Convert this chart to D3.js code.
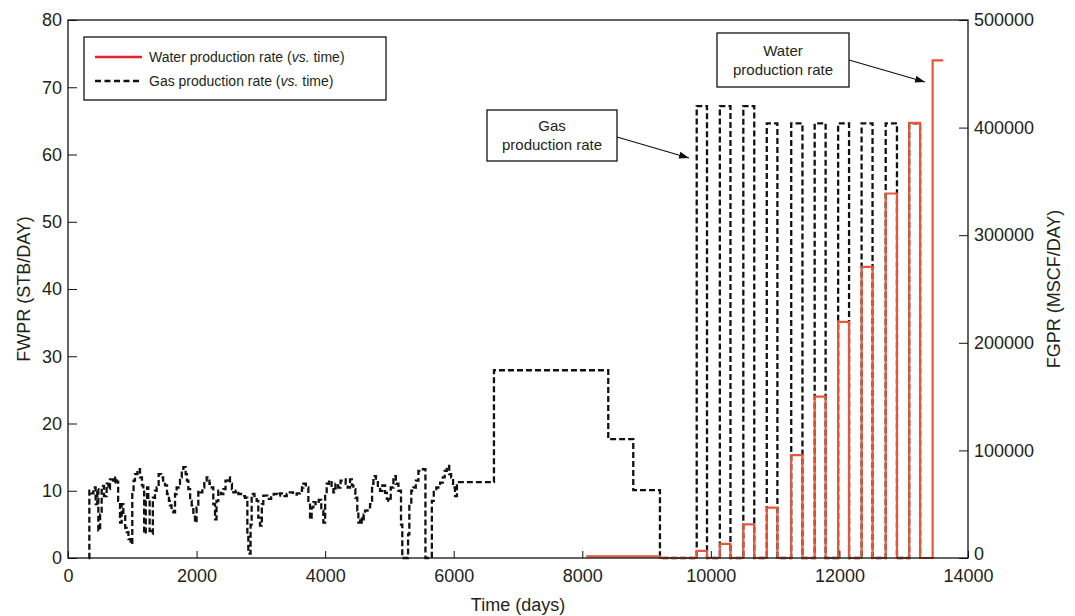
<!DOCTYPE html>
<html>
<head>
<meta charset="utf-8">
<script src="https://cdn.jsdelivr.net/npm/d3@7"></script>
<style>
  html, body { margin: 0; padding: 0; background: #fff; }
  svg { display: block; font-family: "Liberation Sans", Arial, sans-serif; }
</style>
</head>
<body>
<svg id="chart" width="1075" height="616"></svg>
<script>
// ---- Data ---------------------------------------------------------------
// Field gas production rate before the cyclic period (days, MSCF/DAY)
const gasEarlyDays = [320, 332, 360, 394, 430, 455, 472, 500, 524, 560, 601, 630, 653, 700, 735, 757, 780, 809, 835, 861, 890, 912, 940, 975,
  1000, 1020, 1042, 1080, 1120, 1150, 1172, 1185, 1210, 1230, 1249, 1270, 1301, 1320, 1353, 1379, 1410, 1450, 1480, 1509, 1540, 1570, 1586,
  1610, 1638, 1665, 1690, 1720, 1742, 1770, 1794, 1830, 1850, 1872, 1900, 1924, 1950, 1975, 2000, 2027, 2060, 2090, 2120, 2157, 2200, 2235,
  2260, 2287, 2310, 2338, 2380, 2416, 2450, 2490, 2520, 2550, 2572, 2610, 2650, 2720, 2753, 2790, 2805, 2840, 2857, 2900, 2935, 2960, 2987,
  3015, 3038, 3100, 3160, 3200, 3260, 3300, 3350, 3402, 3450, 3500, 3560, 3609, 3640, 3661, 3700, 3739, 3765, 3790, 3817, 3850, 3900, 3940,
  3972, 4000, 4024, 4060, 4100, 4128, 4160, 4200, 4240, 4283, 4320, 4350, 4387, 4415, 4439, 4470, 4500, 4517, 4545, 4569, 4600, 4621, 4660,
  4699, 4730, 4751, 4790, 4820, 4854, 4890, 4932, 4960, 4984, 5020, 5062, 5100, 5140, 5180, 5200, 5290, 5310, 5340, 5373, 5410, 5451, 5500,
  5560, 5660, 5690, 5730, 5788, 5830, 5860, 5892, 5930, 5960, 5990, 6020, 6050, 6626, 8404, 8793, 9208];
const gasEarlyRate = [0, 62500, 60000, 65500, 50000, 64000, 25500, 40500, 67000, 57500, 69000, 64000, 73000, 70000, 75000, 71000, 53000, 33000, 50000, 39000, 28000, 24000, 17500, 13000,
  61000, 72000, 78000, 82500, 75000, 67500, 64000, 22500, 53000, 65500, 56000, 25000, 22500, 56000, 62500, 65500, 78000, 75000, 70000, 67500, 59500, 53000, 49000,
  44000, 42500, 59500, 65500, 69000, 75000, 81000, 84500, 78000, 72000, 64000, 53000, 49000, 40500, 33000, 47000, 62500, 61000, 65500, 72000, 75000, 69000, 65500,
  50000, 36000, 53000, 62500, 59500, 64000, 72000, 75000, 69000, 64000, 61000, 62500, 59500, 57500, 56000, 22000, 4000, 31000, 59500, 57500, 53000, 37500, 30000,
  50000, 58000, 55000, 57500, 59500, 58000, 60000, 57500, 59500, 61000, 59000, 60000, 62500, 65500, 69000, 65500, 53000, 36000, 47000, 52000, 50000, 54000, 44000,
  33000, 59500, 69000, 72000, 64000, 61000, 69000, 65500, 72000, 73000, 69000, 65500, 73000, 67500, 64000, 56000, 44000, 33000, 37500, 33000, 40500, 44000, 47000,
  50000, 69000, 76000, 72000, 65500, 62500, 67500, 60500, 55000, 53000, 65500, 76000, 69000, 62500, 31000, 0, 22000, 50000, 62500, 65500, 72000, 81000, 82500,
  0, 53000, 62500, 65500, 70000, 75000, 81000, 85500, 78000, 75000, 65500, 57500, 70500, 174500, 110500, 63000, 0];

// Cyclic production period: on/off days of each cycle
const cycleStart = [9780, 10140, 10505, 10870, 11250, 11615, 11980, 12345, 12720, 13085, 13450];
const cycleEnd   = [9940, 10305, 10675, 11035, 11425, 11785, 12150, 12515, 12895, 13255, 13615];
// Gas rate during each cycle (MSCF/DAY)
const gasCycleRate = [420000, 420000, 420000, 404000, 404000, 404000, 404000, 404000, 404000, 404000];
// Water rate during each cycle (STB/DAY)
const waterCycleRate = [1.05, 2.1, 5.0, 7.5, 15.3, 24.0, 35.1, 43.3, 54.2, 64.7, 74.0];
// Early low water rate (days, STB/DAY)
const waterEarlyDays = [8060, 9208];
const waterEarlyRate = [0.25, 0];

const xTicks = [0, 2000, 4000, 6000, 8000, 10000, 12000, 14000];
const leftTicks = [0, 10, 20, 30, 40, 50, 60, 70, 80];
const rightTicks = [0, 100000, 200000, 300000, 400000, 500000];

// ---- Series assembly ----------------------------------------------------
const gasSeries = gasEarlyDays.map((d, i) => [d, gasEarlyRate[i]]);
gasCycleRate.forEach((v, i) => {
  gasSeries.push([cycleStart[i], v]);
  gasSeries.push([cycleEnd[i], 0]);
});

const waterSeries = waterEarlyDays.map((d, i) => [d, waterEarlyRate[i]]);
waterCycleRate.forEach((v, i) => {
  waterSeries.push([cycleStart[i], v]);
  // final cycle stays open at the end of the record
  waterSeries.push([cycleEnd[i], i === waterCycleRate.length - 1 ? v : 0]);
});

// ---- Layout -------------------------------------------------------------
const L = 68, R = 968, T = 20, B = 558;
const svg = d3.select("#chart");

const x = d3.scaleLinear().domain([0, 14000]).range([L, R]);
const yL = d3.scaleLinear().domain([0, 80]).range([B, T]);
const yR = d3.scaleLinear().domain([0, 500000]).range([B, T]);

const textColor = "#231f20";

// ---- Lines --------------------------------------------------------------
const gasLine = d3.line().x(d => x(d[0])).y(d => yR(d[1])).curve(d3.curveStepAfter);
const waterLine = d3.line().x(d => x(d[0])).y(d => yL(d[1])).curve(d3.curveStepAfter);

svg.append("path")
  .datum(gasSeries)
  .attr("d", gasLine)
  .attr("fill", "none")
  .attr("stroke", "#111")
  .attr("stroke-width", 2.3)
  .attr("stroke-dasharray", "6,3");

svg.append("path")
  .datum(waterSeries)
  .attr("d", waterLine)
  .attr("fill", "none")
  .attr("stroke", "#e6573a")
  .attr("stroke-width", 2.2);

// ---- Axes ---------------------------------------------------------------
function styleAxis(g) {
  g.select(".domain").remove();
  g.selectAll(".tick line").attr("stroke", "#111").attr("stroke-width", 1);
  g.selectAll(".tick text").attr("fill", textColor).style("font-size", "18px");
}

svg.append("g")
  .attr("transform", `translate(0,${B})`)
  .call(d3.axisBottom(x).tickValues(xTicks).tickFormat(d3.format("d")).tickSizeInner(-7).tickSizeOuter(0).tickPadding(11))
  .call(styleAxis);

svg.append("g")
  .attr("transform", `translate(${L},0)`)
  .call(d3.axisLeft(yL).tickValues(leftTicks).tickFormat(d3.format("d")).tickSizeInner(-9).tickSizeOuter(0).tickPadding(6))
  .call(styleAxis);

svg.append("g")
  .attr("transform", `translate(${R},0)`)
  .call(d3.axisRight(yR).tickValues(rightTicks).tickFormat(d3.format("d")).tickSizeInner(-9).tickSizeOuter(0).tickPadding(6))
  .call(styleAxis)
  .call(g => g.selectAll(".tick text").filter(d => d === 0).attr("dy", "0.1em"));

// Plot frame
svg.append("rect")
  .attr("x", L).attr("y", T)
  .attr("width", R - L).attr("height", B - T)
  .attr("fill", "none")
  .attr("stroke", "#111")
  .attr("stroke-width", 1.3);

// Axis titles
svg.append("text")
  .attr("x", (L + R) / 2).attr("y", 611)
  .attr("text-anchor", "middle")
  .attr("fill", textColor)
  .style("font-size", "18px")
  .text("Time (days)");

svg.append("text")
  .attr("transform", `translate(30,${(T + B) / 2}) rotate(-90)`)
  .attr("text-anchor", "middle")
  .attr("fill", textColor)
  .style("font-size", "18px")
  .text("FWPR (STB/DAY)");

svg.append("text")
  .attr("transform", `translate(1060,${(T + B) / 2}) rotate(-90)`)
  .attr("text-anchor", "middle")
  .attr("fill", textColor)
  .style("font-size", "18px")
  .text("FGPR (MSCF/DAY)");

// ---- Legend -------------------------------------------------------------
const legend = svg.append("g");
legend.append("rect")
  .attr("x", 84).attr("y", 37).attr("width", 302).attr("height", 63)
  .attr("fill", "#fff").attr("stroke", "#111").attr("stroke-width", 1.3);

legend.append("line")
  .attr("x1", 95).attr("x2", 142).attr("y1", 57).attr("y2", 57)
  .attr("stroke", "#e8202a").attr("stroke-width", 2.5);
legend.append("line")
  .attr("x1", 95).attr("x2", 142).attr("y1", 81).attr("y2", 81)
  .attr("stroke", "#111").attr("stroke-width", 2.5).attr("stroke-dasharray", "6,3.5");

const legendItems = [
  { y: 57, pre: "Water production rate (" },
  { y: 81, pre: "Gas production rate (" }
];
legendItems.forEach(item => {
  const t = legend.append("text")
    .attr("x", 149).attr("y", item.y).attr("dy", "0.35em")
    .attr("fill", textColor).style("font-size", "14px");
  t.append("tspan").text(item.pre);
  t.append("tspan").style("font-style", "italic").text("vs.");
  t.append("tspan").text(" time)");
});

// ---- Annotations --------------------------------------------------------
svg.append("defs").append("marker")
  .attr("id", "arrowHead")
  .attr("viewBox", "0 0 10 10")
  .attr("refX", 10).attr("refY", 5)
  .attr("markerWidth", 10).attr("markerHeight", 10)
  .attr("markerUnits", "userSpaceOnUse")
  .attr("orient", "auto")
  .append("path")
  .attr("d", "M0,1.5 L10,5 L0,8.5 Z")
  .attr("fill", "#111");

function callout(box, lines, from, to) {
  svg.append("line")
    .attr("x1", from[0]).attr("y1", from[1])
    .attr("x2", to[0]).attr("y2", to[1])
    .attr("stroke", "#111").attr("stroke-width", 1.3)
    .attr("marker-end", "url(#arrowHead)");
  svg.append("rect")
    .attr("x", box.x).attr("y", box.y).attr("width", box.w).attr("height", box.h)
    .attr("fill", "#fff").attr("stroke", "#111").attr("stroke-width", 1.3);
  lines.forEach((s, i) => {
    svg.append("text")
      .attr("x", box.x + box.w / 2)
      .attr("y", box.y + box.h / 2 + (i - (lines.length - 1) / 2) * 19)
      .attr("dy", "0.35em")
      .attr("text-anchor", "middle")
      .attr("fill", textColor)
      .style("font-size", "15px")
      .text(s);
  });
}

callout({ x: 487, y: 110, w: 130, h: 51 }, ["Gas", "production rate"],
  [617, 137], [689, 158]);
callout({ x: 717, y: 33, w: 132, h: 54 }, ["Water", "production rate"],
  [849, 60], [925, 82]);
</script>
</body>
</html>
